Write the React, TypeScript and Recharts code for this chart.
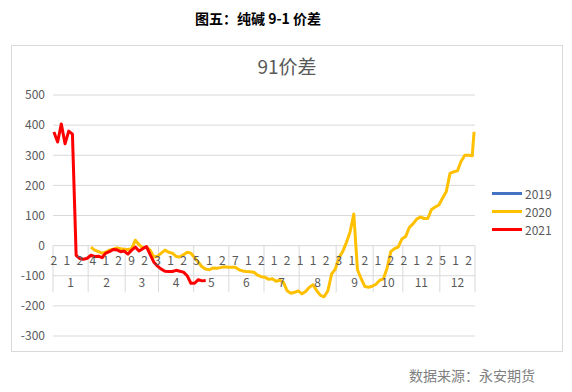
import {
  CartesianGrid,
  Legend,
  Line,
  LineChart,
  ReferenceDot,
  ReferenceLine,
  XAxis,
  YAxis,
} from "recharts";

const seriesNames = ["2019", "2020", "2021"];
const seriesColors = ["#4472C4", "#FFC000", "#FF0000"];

const monthLabels = ["1", "2", "3", "4", "5", "6", "7", "8", "9", "10", "11", "12"];
// trading days in each month
const monthDays = [19, 20, 18, 19, 19, 19, 19, 20, 20, 16, 20, 19];
// excel shows every 7th day label
const dayLabels = [
  "2", "1", "2", "4", "1", "2", "9", "2", "3", "1", "2", "5", "1", "2", "7", "1", "2",
  "1", "2", "1", "1", "2", "3", "1", "2", "1", "2", "2", "1", "2", "5", "1", "2",
];
const DAY_LABEL_STEP = 7;
const yTicks = [-300, -200, -100, 0, 100, 200, 300, 400, 500];

// values sampled every 2nd trading day
const SAMPLE_STEP = 2;
const start2019 = 0;
const values2019: number[] = [];
const start2020 = 20;
const values2020 = [
  -5, -15, -20, -25, -22, -15, -12, -8, -10, -12, -13, -10, 18, 3, -8, -5, -15, -38,
  -35, -25, -15, -22, -25, -36, -38, -30, -22, -25, -40, -55, -70, -78, -80, -74, -75,
  -73, -70, -72, -72, -72, -80, -84, -86, -87, -88, -98, -103, -105, -112, -110, -118,
  -115, -122, -150, -158, -155, -150, -160, -152, -138, -130, -150, -165, -170, -150,
  -95, -78, -40, -20, 10, 45, 105, -80, -110, -136, -138, -135, -128, -115, -110, -75,
  -20, -10, -5, 22, 30, 60, 72, 88, 95, 90, 90, 120, 128, 135, 158, 180, 240, 245, 248,
  280, 300, 300, 298, 378,
];
const start2021 = 0;
const values2021 = [
  377, 344, 404, 338, 380, 370, -32, -43, -45, -42, -32, -36, -35, -40, -25, -20, -13,
  -14, -20, -18, -28, -15, -5, -18, -10, -3, -30, -55, -68, -78, -85, -86, -86, -82, -85,
  -88, -100, -125, -125, -113, -117, -116,
];

const DAY_COUNT = monthDays.reduce((a, b) => a + b, 0);

const monthStarts = monthDays.map((_, i) =>
  monthDays.slice(0, i).reduce((a, b) => a + b, 0)
);
const monthBounds = [...monthStarts, DAY_COUNT];

type Row = { day: number; [key: string]: number };

function buildData() {
  const rows = new Map<number, Row>();
  const put = (values: number[], start: number, key: string) => {
    values.forEach((v, i) => {
      const day = Math.min(start + i * SAMPLE_STEP, DAY_COUNT - 1);
      const row = rows.get(day) ?? { day: day + 0.5 };
      row[key] = v;
      rows.set(day, row);
    });
  };
  put(values2019, start2019, "2019");
  put(values2020, start2020, "2020");
  put(values2021, start2021, "2021");
  return [...rows.entries()].sort((a, b) => a[0] - b[0]).map((e) => e[1]);
}

const data = buildData();

const gridColor = "#D9D9D9";
const textColor = "#595959";

function LegendBox() {
  return (
    <div>
      {seriesNames.map((name, i) => (
        <div
          key={name}
          style={{ display: "flex", alignItems: "center", height: 18 }}
        >
          <span
            style={{
              display: "inline-block",
              width: 30,
              height: 3,
              background: seriesColors[i],
              marginRight: 3,
            }}
          />
          <span style={{ fontSize: 12, color: textColor }}>{name}</span>
        </div>
      ))}
    </div>
  );
}

export default function App() {
  return (
    <div
      style={{
        position: "absolute",
        left: 0,
        top: 0,
        width: 572,
        height: 392,
        background: "#fff",
        fontFamily: "'Noto Sans CJK SC', 'Noto Sans', sans-serif",
      }}
    >
      <div
        style={{
          position: "absolute",
          left: 0,
          top: 8,
          width: 516,
          textAlign: "center",
          fontSize: 14,
          fontWeight: "bold",
          lineHeight: "20px",
          color: "#000",
        }}
      >
        图五：纯碱 9-1 价差
      </div>
      <div
        style={{
          position: "absolute",
          left: 11,
          top: 45,
          width: 552,
          height: 307,
          border: `1px solid ${gridColor}`,
          boxSizing: "border-box",
        }}
      />
      <div
        style={{
          position: "absolute",
          left: 187,
          top: 54,
          width: 200,
          textAlign: "center",
          fontSize: 19,
          lineHeight: "24px",
          color: textColor,
        }}
      >
        91价差
      </div>
      <div style={{ position: "absolute", left: 0, top: 0 }}>
        <LineChart
          width={572}
          height={392}
          data={data}
          margin={{ top: 95, right: 97, bottom: 56, left: 13 }}
        >
          <CartesianGrid vertical={false} stroke={gridColor} />
          <XAxis
            dataKey="day"
            type="number"
            domain={[0, DAY_COUNT]}
            hide
          />
          <YAxis
            width={40}
            domain={[-300, 500]}
            ticks={yTicks}
            tickLine={false}
            axisLine={false}
            tick={{ fill: textColor, fontSize: 12 }}
            interval={0}
          />
          {monthBounds.map((b) => (
            <ReferenceLine
              key={`sep-${b}`}
              segment={[
                { x: b, y: 0 },
                { x: b, y: -155 },
              ]}
              stroke={gridColor}
            />
          ))}
          {dayLabels.map((label, k) => (
            <ReferenceDot
              key={`day-${k}`}
              x={k * DAY_LABEL_STEP + 0.5}
              y={-50}
              r={0}
              fill="none"
              stroke="none"
              label={{ value: label, position: "center", fill: textColor, fontSize: 12 }}
            />
          ))}
          {monthLabels.map((label, i) => (
            <ReferenceDot
              key={`month-${label}`}
              x={monthStarts[i] + monthDays[i] / 2}
              y={-122}
              r={0}
              fill="none"
              stroke="none"
              label={{ value: label, position: "center", fill: textColor, fontSize: 12 }}
            />
          ))}
          {seriesNames.map((name, i) => (
            <Line
              key={name}
              type="linear"
              dataKey={name}
              stroke={seriesColors[i]}
              strokeWidth={3}
              strokeLinejoin="round"
              dot={false}
              activeDot={false}
              connectNulls
              isAnimationActive={false}
            />
          ))}
          <Legend
            layout="horizontal"
            verticalAlign="middle"
            align="center"
            wrapperStyle={{ left: 492, top: 184, width: 70, height: 60 }}
            content={() => <LegendBox />}
          />
        </LineChart>
      </div>
      <div
        style={{
          position: "absolute",
          left: 380,
          top: 365,
          width: 155,
          textAlign: "right",
          fontSize: 14,
          lineHeight: "20px",
          color: "#7F7F7F",
        }}
      >
        数据来源：永安期货
      </div>
    </div>
  );
}
